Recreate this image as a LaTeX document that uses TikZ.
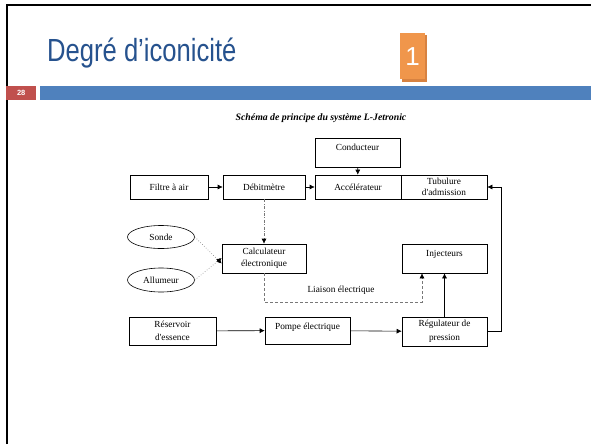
\documentclass[tikz,border=0pt]{standalone}
\usepackage{fontspec}
\setmainfont{Liberation Serif}
\newfontfamily\sansf{Liberation Sans}
\usetikzlibrary{arrows.meta,shapes.geometric}
\definecolor{titleblue}{RGB}{38,82,142}
\definecolor{barblue}{RGB}{79,129,189}
\definecolor{barred}{RGB}{192,80,77}
\definecolor{orangebox}{RGB}{240,150,75}
\definecolor{orangeshade}{RGB}{215,130,65}
\definecolor{linkgray}{RGB}{120,120,120}
\begin{document}
\begin{tikzpicture}[x=1pt,y=-1pt,
  box/.style={draw, line width=0.6pt, inner sep=2pt, align=center,
    font=\fontsize{9.3}{12.5}\selectfont},
  oval/.style={draw, ellipse, line width=0.6pt, inner sep=0pt,
    font=\fontsize{9.3}{12}\selectfont},
  arr/.style={line width=0.6pt, -{Latex[length=5pt,width=5pt]}},
  dotarr/.style={line width=0.6pt, dotted, linkgray, -{Latex[length=5pt,width=5pt,black]}},
  dasharr/.style={line width=0.6pt, dash pattern=on 3pt off 2pt, linkgray, -{Latex[length=5pt,width=5pt,black]}},
  dotdasharr/.style={line width=0.6pt, dash pattern=on 3pt off 1.5pt on 0.8pt off 1.5pt, linkgray, -{Latex[length=5pt,width=5pt,black]}}
]
\useasboundingbox (0,0) rectangle (591,444);
\fill[white] (0,0) rectangle (591,444);
% slide frame
\draw[line width=2.2pt, black] (7,444) -- (7,5) -- (591,5);
% title
\node[anchor=base west, inner sep=0pt, text=titleblue, font=\sansf\fontsize{32}{33}\selectfont] (title) at (47,62) {\scalebox{0.80}[1]{Degré d’iconicité}};
% orange badge
\fill[orangeshade] (401.5,35) rectangle (427,81.5);
\node[fill=orangebox, minimum width=25pt, minimum height=46pt, inner sep=0pt, anchor=north west, text=white, font=\sansf\fontsize{26}{26}\selectfont] (badge) at (400,33) {1};
% bars
\node[fill=barred, minimum width=30pt, minimum height=14pt, inner sep=0pt, anchor=north west, text=white, font=\sansf\bfseries\fontsize{7.5}{8}\selectfont] (pagenum) at (6,86) {28};
\fill[barblue] (40,86) rectangle (591,100);
% caption
\node[font=\bfseries\itshape\fontsize{9.8}{11}\selectfont] (caption) at (321,118) {Schéma de principe du système L-Jetronic};

% boxes
\node[box, minimum width=85pt, minimum height=29pt, text height=10pt, text depth=15pt] (cond) at (357.5,152.5) {Conducteur};
\node[box, minimum width=78pt, minimum height=24pt] (filtre) at (169,187) {Filtre à air};
\node[box, minimum width=82pt, minimum height=24pt] (debit) at (264,187) {Débitmètre};
\node[box, minimum width=86pt, minimum height=24pt] (accel) at (358,187) {Accélérateur};
\node[box, minimum width=86pt, minimum height=24pt, inner sep=0.5pt, font=\fontsize{9.3}{11}\selectfont] (tubu) at (444,187) {Tubulure\\d\textquotesingle admission};
\node[oval, minimum width=67pt, minimum height=23pt] (sonde) at (161,237) {Sonde};
\node[oval, minimum width=67pt, minimum height=24pt] (allum) at (161,280) {Allumeur};
\node[box, minimum width=84pt, minimum height=29pt] (calc) at (264,258.5) {Calculateur\\électronique};
\node[box, minimum width=85pt, minimum height=29pt, text height=10pt, text depth=15pt] (inj) at (444.5,258.5) {Injecteurs};
\node[box, minimum width=87pt, minimum height=28pt] (reserv) at (172.5,331) {Réservoir\\d\textquotesingle essence};
\node[box, minimum width=85pt, minimum height=27pt, text height=10pt, text depth=13pt] (pompe) at (307.5,330.5) {Pompe électrique};
\node[box, minimum width=85pt, minimum height=29pt, font=\fontsize{9.3}{13.5}\selectfont] (regul) at (444.5,331.5) {Régulateur de\\pression};

% connectors
\draw[arr] (filtre) -- (debit);
\draw[arr] (debit) -- (accel);
\draw[arr] (cond) -- (accel);
\draw[dotdasharr] (debit) -- (calc);
\draw[dotarr] (sonde.east) -- ([yshift=-5pt]calc.west);
\draw[dotarr] (allum.east) -- ([yshift=0.5pt]calc.west);
\coordinate (l1) at (calc.south |- 0,302);
\coordinate (l2) at (422,302);
\draw[dasharr] (calc.south) -- (l1) -- (l2) -- (l2 |- inj.south);
\node[font=\fontsize{9.3}{10}\selectfont] (liaison) at (341,290) {Liaison électrique};
\draw[arr] (reserv) -- (pompe);
\draw[arr] (pompe) -- (regul);
\draw[arr] (regul.north) -- (inj.south);
\coordinate (r1) at (501,331.5);
\draw[arr] (regul.east) -- (r1) -- (r1 |- tubu.east) -- (tubu.east);
\end{tikzpicture}
\end{document}
